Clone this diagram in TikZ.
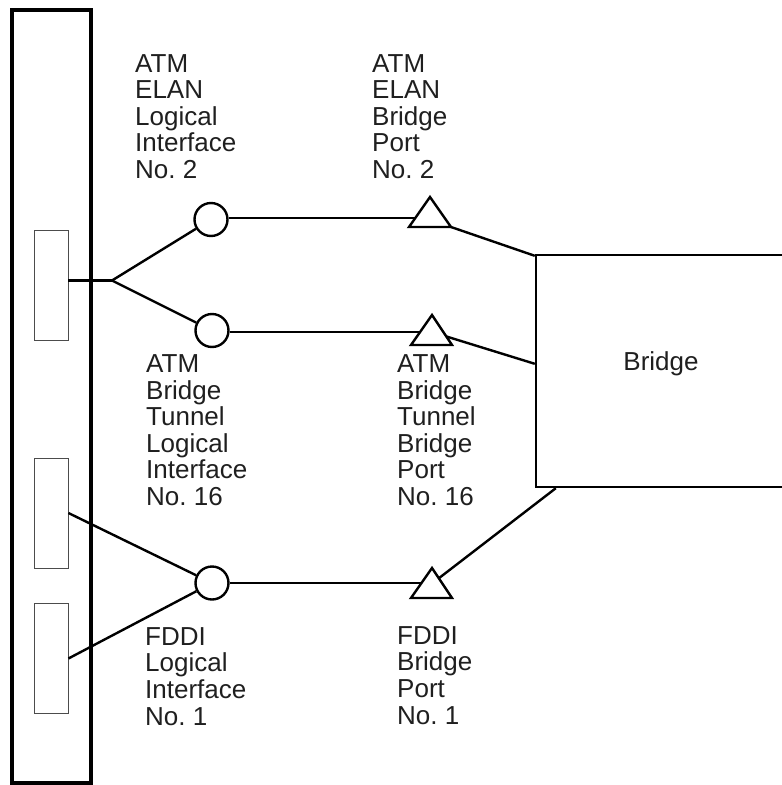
\documentclass[tikz,border=0pt]{standalone}
\usepackage{fontspec}
\setmainfont{Liberation Sans}
\usetikzlibrary{calc}
\frenchspacing
\tikzset{
  lbl/.style={inner sep=0pt, align=left, anchor=base west, font=\fontsize{26}{26.6}\selectfont, text=black!88},
  ifcircle/.style={circle, draw, line width=2.4pt, fill=white, minimum size=33pt, inner sep=0pt},
  porttri/.style={draw, line width=2.4pt, fill=white, line join=miter},
  conn/.style={line width=2.4pt},
  slot/.style={draw=black!70, line width=0.9pt, fill=white, minimum width=34pt, minimum height=110pt, inner sep=0pt},
}
\begin{document}
\begin{tikzpicture}[x=1pt,y=-1pt]
\useasboundingbox (0,0) rectangle (782,785);
% chassis panel
\node[draw, line width=4pt, minimum width=79pt, minimum height=773pt, inner sep=0pt] (panel) at (51.5,396.5) {};
% slots
\node[slot] (r1) at (51,285) {};
\node[slot] (r2) at (51,513) {};
\node[slot] (r3) at (51,658.5) {};
% bridge
\node[draw, line width=2.4pt, minimum width=264pt, minimum height=232pt, inner sep=0pt] (bridge) at (668,371) {};
\node[inner sep=0pt, anchor=base, font=\fontsize{26}{26.6}\selectfont, text=black!88] (btext) at (661,370) {Bridge};
% junction and port coordinates
\coordinate (j) at (112,280.5);
\coordinate (r1p) at (68,280.5);
\coordinate (t1) at (430,218);
\coordinate (t2) at (431.5,332);
\coordinate (t3) at (431.5,583);
\coordinate (b1) at ($(bridge.north west)+(0,2)$);
\coordinate (b2) at ($(bridge.north west)+(0,110)$);
\coordinate (b3) at ($(bridge.south west)+(21,0)$);
% logical interfaces
\node[ifcircle] (c1) at (211,219.5) {};
\node[ifcircle] (c2) at (212,330.5) {};
\node[ifcircle] (c3) at (212,583) {};
% connectors
\draw[conn] (r1p) -- (j);
\draw[conn] (j) -- (c1);
\draw[conn] (j) -- (c2);
\draw[conn] (r2.east) -- (c3);
\draw[conn] (r3.east) -- (c3);
\draw[conn] (c1.east |- t1) -- (t1);
\draw[conn] (c2.east |- t2) -- (t2);
\draw[conn] (c3.east) -- (t3);
\draw[conn] (451,227) -- (b1);
\draw[conn] (440,334.5) -- (b2);
\draw[conn] (432,583.5) -- (b3);
% bridge ports
\draw[porttri] (409,227) -- (451,227) -- (430,197) -- cycle;
\draw[porttri] (411,345) -- (452,345) -- (432,315) -- cycle;
\draw[porttri] (411,598) -- (452,598) -- (432,568) -- cycle;
% labels (anchored at the baseline of the last line)
\node[lbl] (l1) at (135,178.5) {ATM\\ELAN\\Logical\\Interface\\No. 2};
\node[lbl] (l2) at (146,505.5) {ATM\\Bridge\\Tunnel\\Logical\\Interface\\No. 16};
\node[lbl] (l3) at (145,725) {FDDI\\Logical\\Interface\\No. 1};
\node[lbl] (l4) at (372,178.5) {ATM\\ELAN\\Bridge\\Port\\No. 2};
\node[lbl] (l5) at (397,505.5) {ATM\\Bridge\\Tunnel\\Bridge\\Port\\No. 16};
\node[lbl] (l6) at (397,724) {FDDI\\Bridge\\Port\\No. 1};
\end{tikzpicture}
\end{document}
